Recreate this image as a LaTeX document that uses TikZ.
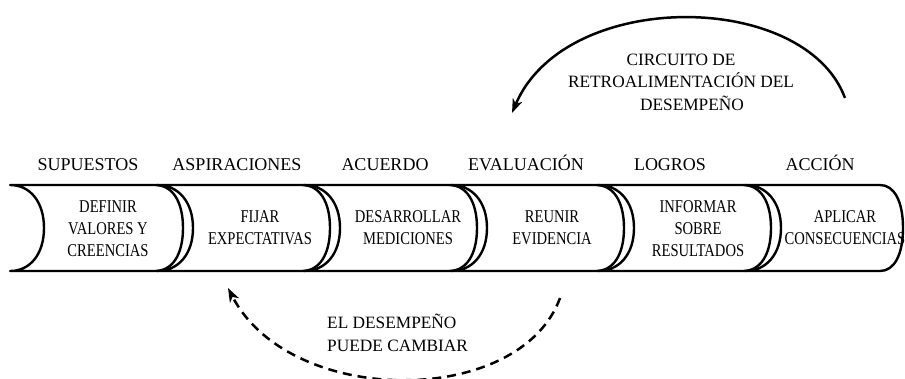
\documentclass[tikz,border=0pt]{standalone}
\usepackage{fontspec}
\setmainfont{Liberation Serif}
\newfontfamily\condfont[FakeStretch=0.81]{Liberation Serif}
\usetikzlibrary{arrows.meta}
\tikzset{
  seg/.style={line width=2.4pt, line join=round, line cap=round},
  header/.style={anchor=base, inner sep=0pt, font=\fontsize{18}{22}\selectfont},
  boxtext/.style={align=center, inner sep=0pt, font=\condfont\fontsize{18}{22}\selectfont},
  looplabel/.style={inner sep=0pt, font=\fontsize{17.3}{22.5}\selectfont},
  loopline/.style={line width=2.5pt, -{Stealth[length=14pt,width=10pt,inset=4pt]}},
}
\begin{document}
\begin{tikzpicture}[x=1pt,y=-1pt]
\useasboundingbox (0,0) rectangle (905,378);
% segments of the band
\foreach \xl/\xs/\d/\rx in {10/155/34/28, 157/302/36/28, 304/449/36/28, 451/596/36/28, 598/743/36/28, 745/880/36/23}{
  \draw[seg] (\xl,185) -- (\xs,185)
    .. controls ({\xs+0.62*\rx},185) and ({\xs+\rx},{228-0.62*43}) .. ({\xs+\rx},228)
    .. controls ({\xs+\rx},{228+0.62*43}) and ({\xs+0.62*\rx},271) .. (\xs,271)
    -- (\xl,271)
    .. controls ({\xl+0.6*\d},271) and ({\xl+\d},{228+0.6*43}) .. ({\xl+\d},228)
    .. controls ({\xl+\d},{228-0.6*43}) and ({\xl+0.6*\d},185) .. cycle;
}
% headers
\node[header] (h1) at (88,170) {SUPUESTOS};
\node[header] (h2) at (237,170) {ASPIRACIONES};
\node[header] (h3) at (385,170) {ACUERDO};
\node[header] (h4) at (526,170) {EVALUACIÓN};
\node[header] (h5) at (670,170) {LOGROS};
\node[header] (h6) at (820,170) {ACCIÓN};
% box texts
\node[boxtext] (b1) at (108,229) {DEFINIR\\VALORES Y\\CREENCIAS};
\node[boxtext] (b2) at (260,228) {FIJAR\\EXPECTATIVAS};
\node[boxtext] (b3) at (408,228) {DESARROLLAR\\MEDICIONES};
\node[boxtext] (b4) at (552,228) {REUNIR\\EVIDENCIA};
\node[boxtext] (b5) at (698,229) {INFORMAR\\SOBRE\\RESULTADOS};
\node[boxtext] (b6) at (845,228) {APLICAR\\CONSECUENCIAS};
% feedback loop (top)
\coordinate (t1) at (845,98);
\coordinate (t2) at (512,113);
\draw[loopline] (t1) .. controls (805,-10) and (565,-12) .. (t2);
\node[looplabel, align=center] (tl) at (681,82) {CIRCUITO DE\\RETROALIMENTACIÓN DEL\\\hspace*{22pt}DESEMPEÑO};
% performance may change (bottom)
\coordinate (d1) at (560,298);
\coordinate (d2) at (228,288);
\draw[loopline, dash pattern=on 9pt off 6pt] (d1) .. controls (520,408) and (290,408) .. (d2);
\node[looplabel, align=left, anchor=west] (dl) at (327,333) {EL DESEMPEÑO\\PUEDE CAMBIAR};
\end{tikzpicture}
\end{document}
